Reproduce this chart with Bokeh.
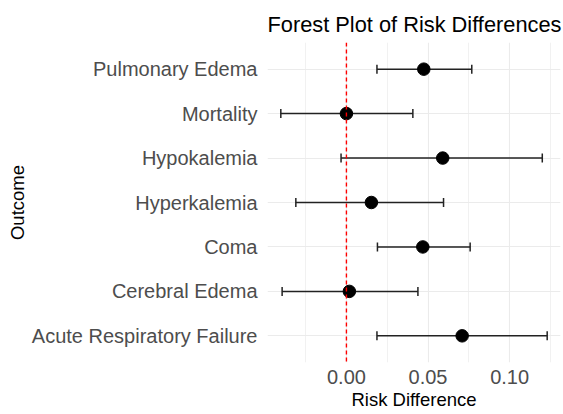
from bokeh.plotting import figure
from bokeh.models import (ColumnDataSource, FactorRange, Range1d, Span, Whisker,
                          TeeHead, FixedTicker)
from bokeh.embed import file_html
from bokeh.resources import INLINE

# ---- data ----
outcomes = ["Pulmonary Edema", "Mortality", "Hypokalemia", "Hyperkalemia",
            "Coma", "Cerebral Edema", "Acute Respiratory Failure"]
risk_diff = [0.0474, 0.0000, 0.0590, 0.0153, 0.0468, 0.0018, 0.0709]
ci_lower = [0.0187, -0.0402, -0.0033, -0.0310, 0.0190, -0.0394, 0.0187]
ci_upper = [0.0768, 0.0407, 0.1200, 0.0595, 0.0758, 0.0438, 0.1230]

x_major_ticks = [0.00, 0.05, 0.10]
x_minor_ticks = [-0.025, 0.025, 0.075, 0.125]
x_tick_labels = ["0.00", "0.05", "0.10"]

title_text = "Forest Plot of Risk Differences"
x_title = "Risk Difference"
y_title = "Outcome"

FONT = "Liberation Sans"

src = ColumnDataSource(dict(outcome=outcomes, rd=risk_diff,
                            lo=ci_lower, hi=ci_upper))

lo_all, hi_all = min(ci_lower), max(ci_upper)
pad = 0.05 * (hi_all - lo_all)
x_lo, x_hi = lo_all - pad, hi_all + pad

p = figure(width=563, height=414, output_backend="svg", toolbar_location=None,
           y_range=FactorRange(factors=list(reversed(outcomes)),
                               range_padding=0.1, range_padding_units="absolute"),
           x_range=Range1d(x_lo, x_hi),
           min_border_left=267, min_border_right=3,
           min_border_top=42, min_border_bottom=52)

p.outline_line_color = None
p.background_fill_color = "white"
p.border_fill_color = "white"

# title
p.title.text = title_text
p.title.text_font = FONT
p.title.text_font_size = "21.8px"
p.title.text_font_style = "normal"
p.title.text_color = "black"
p.title.align = "left"
p.title.standoff = 11

# x axis
xa = p.xaxis[0]
xa.ticker = FixedTicker(ticks=x_major_ticks, minor_ticks=x_minor_ticks)
xa.major_label_overrides = {t: l for t, l in zip(x_major_ticks, x_tick_labels)}
xa.axis_label = x_title
xa.axis_label_text_font = FONT
xa.axis_label_text_font_size = "18.5px"
xa.axis_label_text_font_style = "normal"
xa.axis_label_text_color = "black"
xa.axis_label_standoff = 2
xa.major_label_text_font = FONT
xa.major_label_text_font_size = "20px"
xa.major_label_text_color = "#4D4D4D"
xa.major_label_standoff = 7
xa.axis_line_color = None
xa.major_tick_line_color = None
xa.minor_tick_line_color = None
xa.major_tick_out = 0
xa.minor_tick_out = 0
xa.major_tick_in = 0
xa.minor_tick_in = 0

# y axis
ya = p.yaxis[0]
ya.axis_label = y_title
ya.axis_label_text_font = FONT
ya.axis_label_text_font_size = "18.5px"
ya.axis_label_text_font_style = "normal"
ya.axis_label_text_color = "black"
ya.axis_label_standoff = 1
ya.major_label_text_font = FONT
ya.major_label_text_font_size = "20px"
ya.major_label_text_color = "#4D4D4D"
ya.major_label_standoff = 10
ya.axis_line_color = None
ya.major_tick_line_color = None
ya.minor_tick_line_color = None
ya.major_tick_out = 0
ya.minor_tick_out = 0
ya.major_tick_in = 0
ya.minor_tick_in = 0

# grids
p.xgrid.grid_line_color = "#EBEBEB"
p.xgrid.grid_line_width = 1.1
p.xgrid.minor_grid_line_color = "#EFEFEF"
p.xgrid.minor_grid_line_width = 0.9
p.ygrid.grid_line_color = "#EBEBEB"
p.ygrid.grid_line_width = 1.1

# zero reference line
p.add_layout(Span(location=0, dimension="height", line_color="#FF0000",
                  line_dash="4 3", line_width=1.4))

# error bars
ebar_color = "#222222"
whisk = Whisker(source=src, base="outcome", lower="lo", upper="hi",
                dimension="width", line_color=ebar_color, line_width=1.5,
                lower_head=TeeHead(size=9, line_color=ebar_color, line_width=1.5),
                upper_head=TeeHead(size=9, line_color=ebar_color, line_width=1.5))
p.add_layout(whisk)

# points
p.scatter(x="rd", y="outcome", source=src, size=12.5, color="black")

open("out.html", "w").write(file_html(p, INLINE))
